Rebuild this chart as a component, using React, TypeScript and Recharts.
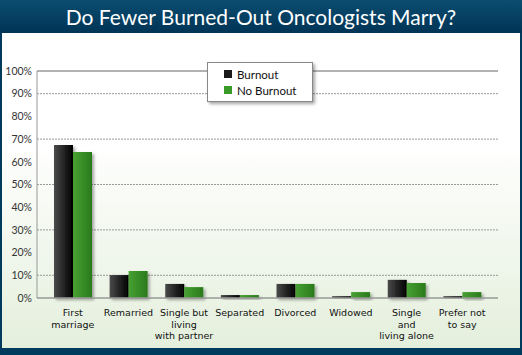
import { Bar, BarChart, CartesianGrid, ReferenceLine, XAxis, YAxis } from "recharts";

const categories = [
  "First\nmarriage",
  "Remarried",
  "Single but\nliving\nwith partner",
  "Separated",
  "Divorced",
  "Widowed",
  "Single\nand\nliving alone",
  "Prefer not\nto say",
];
const burnout = [67.4, 10.1, 6.2, 1.3, 6.2, 0.8, 8.0, 0.8];
const noBurnout = [64.3, 11.9, 4.8, 1.3, 6.2, 2.6, 6.6, 2.6];
const yTicks = [0, 10, 20, 30, 40, 50, 60, 70, 80, 90, 100];
const gridValues = [10, 20, 30, 40, 50, 60, 70, 80, 90];

const data = categories.map((c, i) => ({
  name: c,
  burnout: burnout[i],
  noBurnout: noBurnout[i],
}));

function XTick(props: any) {
  const { x, y, payload } = props;
  const lines = String(payload.value).split("\n");
  return (
    <text x={x} y={y} textAnchor="middle" fontSize={9.5} fontFamily="DejaVu Sans" fill="#111">
      {lines.map((l, i) => (
        <tspan key={i} x={x} dy={i === 0 ? 10 : 11.7}>
          {l}
        </tspan>
      ))}
    </text>
  );
}

function LegendBox() {
  const items = [
    { label: "Burnout", color: "#1a1a1a" },
    { label: "No Burnout", color: "#3a9a28" },
  ];
  return (
    <div
      style={{
        position: "absolute",
        left: 207,
        top: 62,
        width: 106,
        height: 40,
        background: "#fff",
        border: "1px solid #888",
        boxShadow: "2px 2px 3px rgba(0,0,0,0.35)",
        fontFamily: "Lato",
        fontSize: 11.5,
        color: "#111",
        paddingTop: 3,
        boxSizing: "border-box",
      }}
    >
      {items.map((it) => (
        <div key={it.label} style={{ display: "flex", alignItems: "center", height: 16, paddingLeft: 16 }}>
          <span style={{ width: 8, height: 8, background: it.color, marginRight: 5, display: "inline-block" }} />
          {it.label}
        </div>
      ))}
    </div>
  );
}

export default function App() {
  return (
    <div style={{ position: "absolute", left: 0, top: 0, width: 522, height: 355, background: "#003a5c" }}>
      <div
        style={{
          position: "absolute",
          left: 0,
          top: 0,
          width: 522,
          height: 33,
          background: "linear-gradient(#0b4d70, #003456)",
          color: "#fff",
          fontFamily: "Lato",
          fontSize: 21,
          textAlign: "center",
          lineHeight: "33px",
        }}
      >
        Do Fewer Burned-Out Oncologists Marry?
      </div>
      <div
        style={{
          position: "absolute",
          left: 2,
          top: 33,
          width: 518,
          height: 315,
          background: "linear-gradient(#ffffff 0%, #ffffff 35%, #e4efdc 100%)",
        }}
      />
      <div style={{ position: "absolute", left: 0, top: 0 }}>
        <BarChart
          width={522}
          height={355}
          data={data}
          margin={{ top: 71, right: 24, bottom: 7, left: 0 }}
          barCategoryGap={9}
          barGap={0}
        >
          <defs>
            <linearGradient id="gBlack" x1="0" y1="0" x2="1" y2="0">
              <stop offset="0%" stopColor="#4a4a4a" />
              <stop offset="100%" stopColor="#000" />
            </linearGradient>
            <linearGradient id="gGreen" x1="0" y1="0" x2="1" y2="0">
              <stop offset="0%" stopColor="#47a133" />
              <stop offset="100%" stopColor="#2a7a1c" />
            </linearGradient>
            <filter id="shadow" x="-20%" y="-20%" width="160%" height="160%">
              <feDropShadow dx="2" dy="2" stdDeviation="1.5" floodColor="#000" floodOpacity="0.35" />
            </filter>
          </defs>
          <CartesianGrid
            vertical={false}
            stroke="#999"
            strokeDasharray="2 1"
            yAxisId="left"
            horizontalValues={gridValues}
          />
          <ReferenceLine y={100} yAxisId="left" stroke="#999" strokeWidth={1.5} />
          <XAxis
            dataKey="name"
            interval={0}
            tick={<XTick />}
            tickLine={false}
            axisLine={{ stroke: "#999", strokeWidth: 1.5 }}
            height={50}
            padding={{ left: 8, right: 8 }}
          />
          <YAxis
            yAxisId="left"
            domain={[0, 100]}
            ticks={yTicks}
            width={37}
            tickLine={false}
            tickSize={0}
            tickMargin={5}
            axisLine={{ stroke: "#999" }}
            tickFormatter={(v) => `${v}%`}
            tick={{ fontSize: 10.5, fontFamily: "Lato", fill: "#333" }}
          />
          <YAxis yAxisId="right" orientation="right" domain={[0, 100]} tick={false} tickLine={false} width={0} axisLine={{ stroke: "#999" }} />
          <Bar yAxisId="left" dataKey="burnout" name="Burnout" fill="url(#gBlack)" filter="url(#shadow)" isAnimationActive={false} />
          <Bar yAxisId="left" dataKey="noBurnout" name="No Burnout" fill="url(#gGreen)" filter="url(#shadow)" isAnimationActive={false} />
        </BarChart>
      </div>
      <LegendBox />
    </div>
  );
}
